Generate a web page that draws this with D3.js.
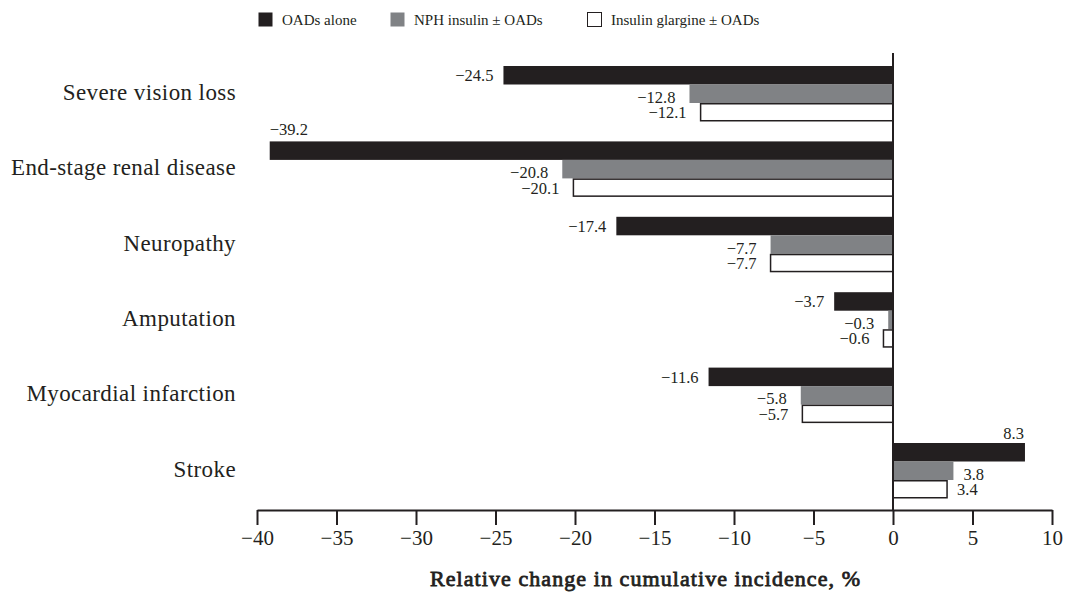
<!DOCTYPE html>
<html>
<head>
<meta charset="utf-8">
<script src="https://cdn.jsdelivr.net/npm/d3@7"></script>
<style>
body{margin:0;background:#fff}
svg{display:block}
svg text{font-family:"Liberation Serif","DejaVu Serif",serif}
</style>
</head>
<body>
<svg width="1073" height="594"></svg>
<script>
// ===== DATA =====
const categories = ["Severe vision loss","End-stage renal disease","Neuropathy","Amputation","Myocardial infarction","Stroke"]
const seriesNames = ["OADs alone","NPH insulin \u00b1 OADs","Insulin glargine \u00b1 OADs"]
const oadsAlone = [-24.5,-39.2,-17.4,-3.7,-11.6,8.3]
const nphInsulin = [-12.8,-20.8,-7.7,-0.3,-5.8,3.8]
const glargine = [-12.1,-20.1,-7.7,-0.6,-5.7,3.4]
const xTicks = [-40,-35,-30,-25,-20,-15,-10,-5,0,5,10]

const colors = ["#231f20","#808285","#ffffff"]
const ink = "#231f20"
const serif = "Liberation Serif, DejaVu Serif, serif"

const svg = d3.select("svg")

const x = d3.scaleLinear().domain([-40,10]).range([257,1052])

const y0 = d3.scaleBand()
.domain(categories)
.range([66,498.5])
.paddingInner(0.264)
.paddingOuter(0)

const y1 = d3.scaleBand()
.domain(d3.range(3))
.range([0,y0.bandwidth()])

const rows = categories.map((c,i)=>({
  cat:c,
  vals:[oadsAlone[i],nphInsulin[i],glargine[i]]
}))

// ===== BARS =====
const g = svg.selectAll(".grp")
.data(rows)
.enter()
.append("g")
.attr("transform",d=>`translate(0,${y0(d.cat)})`)

g.selectAll("rect")
.data(d=>d.vals.map((v,k)=>({v,k})))
.enter()
.append("rect")
.attr("x",d=>x(Math.min(0,d.v)))
.attr("width",d=>Math.abs(x(d.v)-x(0)))
.attr("y",d=>y1(d.k)+(d.k===2?0.75:0))
.attr("height",d=>y1.bandwidth()-(d.k===2?1.5:0))
.attr("fill",d=>colors[d.k])
.attr("stroke",d=>d.k===2?ink:"none")
.attr("stroke-width",1.5)

// value labels
const fmt = v=>(v<0?"\u2212":"")+Math.abs(v).toFixed(1)

g.selectAll("text.val")
.data(d=>d.vals.map((v,k)=>({v,k})))
.enter()
.append("text")
.attr("class","val")
.attr("font-family",serif)
.attr("font-size",16.5)
.attr("fill",ink)
.each(function(d){
  const t = d3.select(this)
  const yc = y1(d.k)+y1.bandwidth()/2
  if(d.v < -35){
    // no room on the left, put above the bar start
    t.attr("x",x(d.v)).attr("y",y1(d.k)-6).attr("text-anchor","start")
  }else if(d.v < 0){
    const gap = d.k===0?10:14
    const dy = d.k===0?6:(d.k===1?9:6)
    t.attr("x",x(d.v)-gap).attr("y",yc+dy).attr("text-anchor","end")
  }else if(d.k===0){
    t.attr("x",x(d.v)-1).attr("y",y1(d.k)-4).attr("text-anchor","end")
  }else{
    const dy = d.k===1?9:6
    t.attr("x",x(d.v)+10).attr("y",yc+dy).attr("text-anchor","start")
  }
})
.text(d=>fmt(d.v))

// ===== CATEGORY LABELS =====
svg.selectAll("text.cat")
.data(categories)
.enter()
.append("text")
.attr("class","cat")
.attr("x",236)
.attr("y",d=>y0(d)+y0.bandwidth()/2+6)
.attr("text-anchor","end")
.attr("font-family",serif)
.attr("font-size",23)
.attr("letter-spacing",0.4)
.attr("fill",ink)
.text(d=>d)

// ===== ZERO LINE =====
svg.append("line")
.attr("x1",x(0)).attr("x2",x(0))
.attr("y1",53).attr("y2",510)
.attr("stroke",ink)
.attr("stroke-width",2)

// ===== X AXIS =====
const axis = svg.append("g")
.attr("transform","translate(0,510)")
.call(d3.axisBottom(x).tickValues(xTicks).tickSize(15).tickSizeOuter(0).tickFormat(d=>(d<0?"\u2212":"")+Math.abs(d)).tickPadding(5))

axis.attr("font-family",serif)
axis.select(".domain").attr("stroke",ink).attr("stroke-width",2)
axis.selectAll(".tick line").attr("stroke",ink).attr("stroke-width",2)
axis.selectAll(".tick text")
.attr("font-family",serif)
.attr("font-size",21)
.attr("fill",ink)

// title: regular serif face thickened with a thin stroke
svg.append("text")
.attr("x",645)
.attr("y",586)
.attr("text-anchor","middle")
.attr("font-family",serif)
.attr("font-size",22)
.attr("textLength",430)
.attr("lengthAdjust","spacing")
.attr("fill",ink)
.attr("stroke",ink)
.attr("stroke-width",0.8)
.text("Relative change in cumulative incidence, %")

// ===== LEGEND =====
const legendX = [258,390,587]
const legend = svg.selectAll(".leg")
.data(seriesNames)
.enter()
.append("g")
.attr("transform",(d,i)=>`translate(${legendX[i]},12)`)

legend.append("rect")
.attr("x",0.5).attr("y",0.5)
.attr("width",14).attr("height",14)
.attr("fill",(d,i)=>colors[i])
.attr("stroke",(d,i)=>i===2?ink:"none")
.attr("stroke-width",1)

legend.append("text")
.attr("x",24)
.attr("y",12.5)
.attr("font-family",serif)
.attr("font-size",15)
.attr("fill",ink)
.text(d=>d)
</script>
</body>
</html>
